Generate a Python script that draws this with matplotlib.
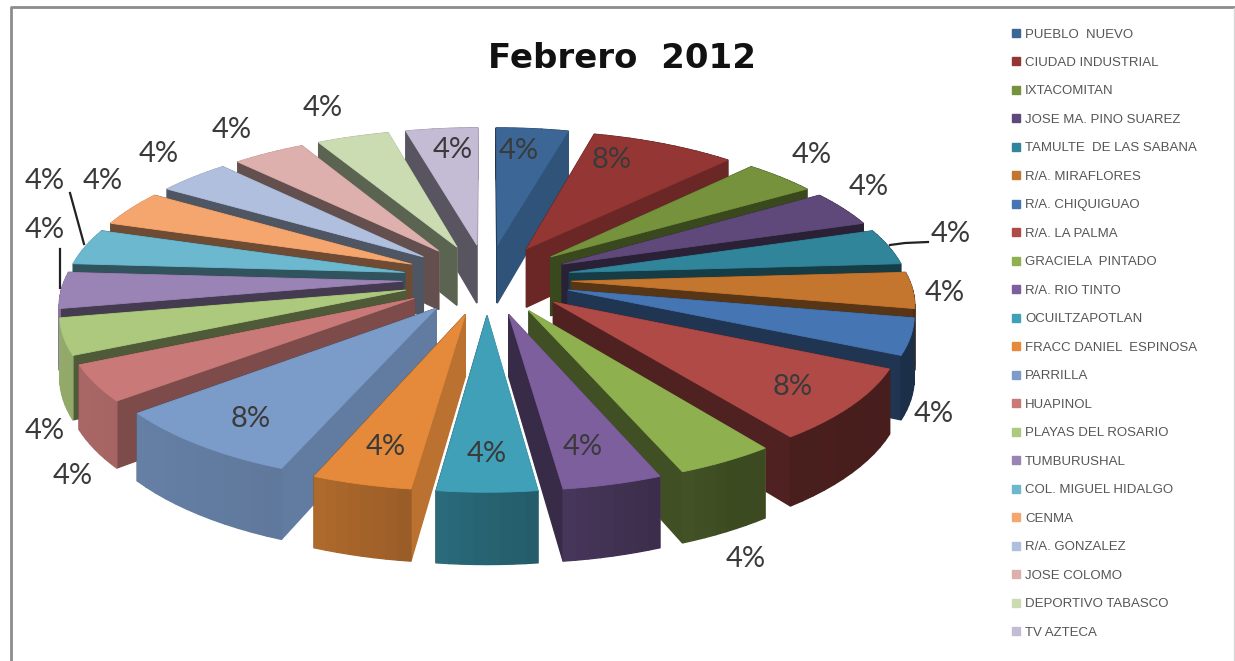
import matplotlib
matplotlib.use('Agg')
import numpy as np
from matplotlib import pyplot as plt
from matplotlib import colors as mcolors
from matplotlib.patches import Patch

W, H = 1235, 661

names = ['PUEBLO  NUEVO', 'CIUDAD INDUSTRIAL', 'IXTACOMITAN', 'JOSE MA. PINO SUAREZ',
         'TAMULTE  DE LAS SABANA', 'R/A. MIRAFLORES', 'R/A. CHIQUIGUAO', 'R/A. LA PALMA',
         'GRACIELA  PINTADO', 'R/A. RIO TINTO', 'OCUILTZAPOTLAN', 'FRACC DANIEL  ESPINOSA',
         'PARRILLA', 'HUAPINOL', 'PLAYAS DEL ROSARIO', 'TUMBURUSHAL',
         'COL. MIGUEL HIDALGO', 'CENMA', 'R/A. GONZALEZ', 'JOSE COLOMO',
         'DEPORTIVO TABASCO', 'TV AZTECA']
values = [1, 2, 1, 1, 1, 1, 1, 2, 1, 1, 1, 1, 2, 1, 1, 1, 1, 1, 1, 1, 1, 1]
slice_colors = ['#3B6696', '#943634', '#76923C', '#5F497A', '#31859B', '#C4762E',
                '#4675B4', '#B04A47', '#8FB04F', '#7D5F9E', '#3FA0B8', '#E58A3A',
                '#7B9BC9', '#C97A78', '#ADC97D', '#9A83B5', '#6CB8CF', '#F5A66E',
                '#B0BFDD', '#DDB0AE', '#CBDCB3', '#C4BBD5']

# where the percent labels sit, pixels of the picture
label_x = [519, 612, 812, 869, 951, 945, 934, 793, 746, 583, 487, 386, 251, 73, 45, 45, 45, 103, 159, 232, 323, 453]
label_y = [151, 160, 155, 187, 234, 293, 414, 387, 559, 447, 454, 447, 419, 476, 431, 230, 181, 181, 154, 130, 108, 150]

# view of the pie
cx, cy = 487, 279
rad_x, rad_y = 422, 177
persp = 0.17
explode = 0.2
depth = 60


def project(x, y):
    s = 1 / (1 + persp * y)
    return cx + rad_x * x * s, cy - rad_y * y * s, s


def shade(col, f):
    return tuple(np.array(mcolors.to_rgb(col)) * f)


def wall(ax, p1, p2, col):
    x1, y1, s1 = project(*p1)
    x2, y2, s2 = project(*p2)
    xs = [x1, x2, x2, x1]
    ys = [y1, y2, y2 + depth * s2, y1 + depth * s1]
    ax.fill(xs, ys, color=col, lw=1)


fig = plt.figure(figsize=(W / 100, H / 100), dpi=100)
ax = fig.add_axes([0, 0, 1, 1])
ax.set_xlim(0, W)
ax.set_ylim(H, 0)
ax.axis('off')

total = sum(values)
ends = np.cumsum(values) / total * 360
starts = ends - np.array(values) / total * 360
mids = np.radians((starts + ends) / 2)

# back slices first, the front ones cover them
order = np.argsort(-np.cos(mids))
for i in order:
    col = slice_colors[i]
    a0, a1 = np.radians(starts[i]), np.radians(ends[i])
    ox, oy = explode * np.sin(mids[i]), explode * np.cos(mids[i])
    r = 1 - explode
    arc = np.linspace(a0, a1, 4 * values[i] + 5)
    px = ox + r * np.sin(arc)
    py = oy + r * np.cos(arc)

    # sides, sorted far to near
    faces = []
    for nx, p in [(-np.cos(a0), (px[0], py[0])), (np.cos(a1), (px[-1], py[-1]))]:
        f = np.interp(nx, [0.5, 0.75, 1], [0.45, 0.75, 0.82])
        faces.append((oy + p[1], (ox, oy), p, shade(col, f)))
    for k in range(len(arc) - 1):
        am = (arc[k] + arc[k + 1]) / 2
        f = np.interp(np.sin(am), [-1, -0.4, 0, 0.5, 1], [0.85, 0.78, 0.62, 0.42, 0.4])
        faces.append((py[k] + py[k + 1], (px[k], py[k]), (px[k + 1], py[k + 1]), shade(col, f)))
    faces.sort(key=lambda t: -t[0])
    for _, p1, p2, c in faces:
        wall(ax, p1, p2, c)

    # top
    tx, ty, _ = project(np.r_[ox, px], np.r_[oy, py])
    ax.fill(tx, ty, color=col, lw=0.6)

# percent labels
for i in range(len(values)):
    ax.text(label_x[i], label_y[i], '%d%%' % round(values[i] / total * 100),
            family='Lato', fontsize=21, color='#3a3a3a', ha='center', va='center')

# leader lines
ax.plot([890, 905, 928], [245, 243, 242], color='#222222', lw=1.6)
ax.plot([60, 60], [249, 288], color='#222222', lw=1.6)
ax.plot([70, 84], [193, 244], color='#222222', lw=1.6)

ax.text(622, 59, 'Febrero  2012', family='DejaVu Sans', fontweight='bold', fontsize=24.5,
        color='#111111', ha='center', va='center')

# frame of the pasted picture
ax.plot([11, 11, 1235], [H, 7, 7], color='#8c8c8c', lw=2)
ax.plot([1234, 1234], [8, H], color='#d8d8d8', lw=1)

handles = [Patch(color=c) for c in slice_colors]
leg = ax.legend(handles, names, loc='upper left', bbox_to_anchor=(1012 / W, 1 - 28.5 / H),
                bbox_transform=fig.transFigure, frameon=False,
                handlelength=0.6, handleheight=0.55, handletextpad=0.38,
                labelspacing=1.25, borderpad=0, borderaxespad=0,
                prop={'family': 'Liberation Sans', 'size': 9.5})
for t in leg.get_texts():
    t.set_color('#555555')

fig.savefig('out.png', dpi=100)
